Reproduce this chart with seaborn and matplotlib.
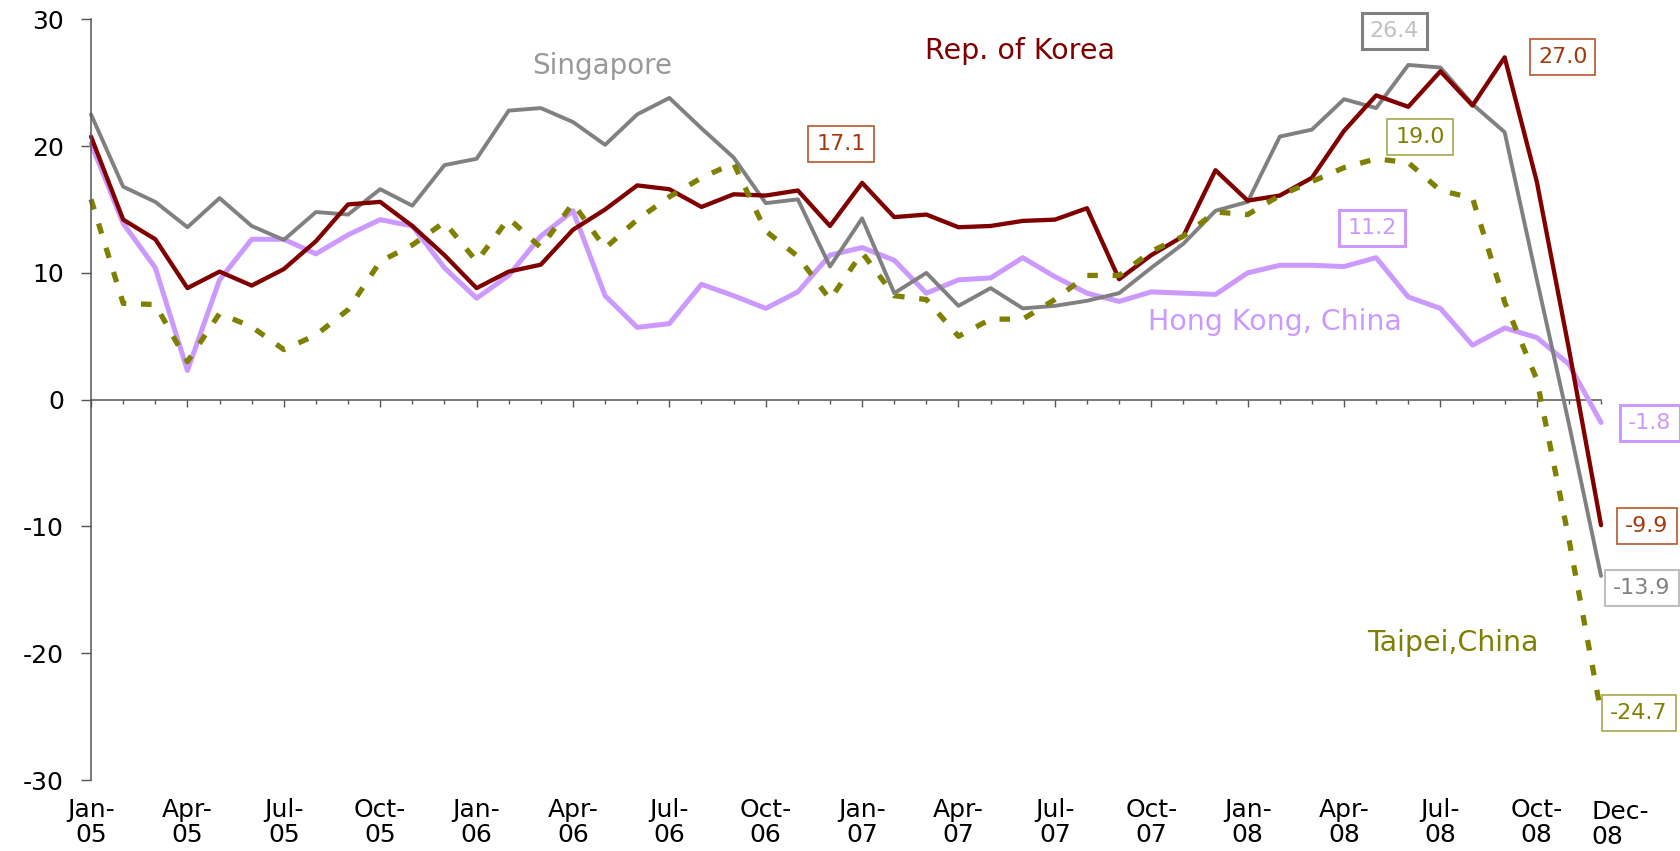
import numpy as np
import pandas as pd
import matplotlib
matplotlib.use("Agg")
import matplotlib.pyplot as plt
import matplotlib.transforms as mtransforms
import seaborn as sns

# monthly growth rates, Jan-05 .. Dec-08
korea = [20.75, 14.2, 12.65, 8.8, 10.1, 9.0, 10.3, 12.5, 15.4, 15.6, 13.7, 11.4,
         8.8, 10.1, 10.65, 13.4, 15.0, 16.9, 16.6, 15.2, 16.2, 16.1, 16.5, 13.7,
         17.1, 14.4, 14.6, 13.6, 13.7, 14.1, 14.2, 15.1, 9.5, 11.4, 12.9, 18.1,
         15.7, 16.1, 17.5, 21.2, 24.0, 23.1, 25.9, 23.2, 27.0, 17.2, 4.0, -9.9]
singapore = [22.5, 16.8, 15.6, 13.6, 15.9, 13.7, 12.6, 14.8, 14.6, 16.6, 15.3, 18.5,
             19.0, 22.8, 23.0, 21.9, 20.1, 22.5, 23.8, 21.4, 19.1, 15.5, 15.8, 10.5,
             14.3, 8.4, 10.0, 7.4, 8.8, 7.2, 7.4, 7.8, 8.4, 10.4, 12.3, 14.9,
             15.6, 20.75, 21.3, 23.7, 23.0, 26.4, 26.2, 23.3, 21.1, 9.5, -1.9, -13.9]
hongkong = [20.2, 13.9, 10.4, 2.3, 9.45, 12.65, 12.65, 11.5, 13.0, 14.2, 13.7, 10.4,
            8.0, 9.8, 12.9, 14.9, 8.2, 5.7, 6.0, 9.1, 8.2, 7.2, 8.5, 11.4,
            12.0, 11.0, 8.4, 9.45, 9.6, 11.2, 9.7, 8.4, 7.75, 8.5, 8.4, 8.3,
            10.0, 10.6, 10.6, 10.5, 11.2, 8.1, 7.2, 4.3, 5.65, 4.9, 2.8, -1.8]
taipei = [15.8, 7.6, 7.5, 3.0, 6.8, 5.75, 3.95, 5.1, 7.1, 10.9, 12.2, 14.0,
          10.9, 14.3, 12.0, 15.5, 11.95, 14.2, 16.0, 17.5, 18.65, 13.3, 11.3, 7.9,
          11.6, 8.2, 7.9, 5.0, 6.35, 6.35, 7.9, 9.8, 9.8, 11.7, 12.9, 14.8,
          14.6, 16.1, 17.2, 18.3, 19.0, 18.7, 16.5, 15.9, 7.7, 1.6, -11.0, -24.7]

tick_labels = ["Jan-\n05", "Apr-\n05", "Jul-\n05", "Oct-\n05",
               "Jan-\n06", "Apr-\n06", "Jul-\n06", "Oct-\n06",
               "Jan-\n07", "Apr-\n07", "Jul-\n07", "Oct-\n07",
               "Jan-\n08", "Apr-\n08", "Jul-\n08", "Oct-\n08", "Dec-\n08"]
y_ticks = [-30, -20, -10, 0, 10, 20, 30]

names = ["Hong Kong, China", "Singapore", "Rep. of Korea", "Taipei,China"]
months = np.arange(len(korea))
df = pd.DataFrame({"month": months, "Hong Kong, China": hongkong,
                   "Singapore": singapore, "Rep. of Korea": korea,
                   "Taipei,China": taipei})
df = df.melt(id_vars="month", var_name="economy", value_name="growth")

styles = {
    "Hong Kong, China": dict(color="#CC99FF", linewidth=3.6, linestyle="-"),
    "Singapore": dict(color="#808080", linewidth=2.8, linestyle="-"),
    "Rep. of Korea": dict(color="#800000", linewidth=3.1, linestyle="-"),
    "Taipei,China": dict(color="#808000", linewidth=3.8, linestyle=(0, (2.0, 2.8))),
}

sns.set_theme(style="white")
plt.rcParams["font.family"] = ["DejaVu Sans", "Liberation Sans"]
plt.rcParams["axes.unicode_minus"] = False

fig = plt.figure(figsize=(16.8, 8.51), dpi=100)
ax = fig.add_axes([0.0542, 0.0834, 0.953 - 0.0542, 0.9773 - 0.0834])

for name in names:
    sub = df[df["economy"] == name]
    sns.lineplot(data=sub, x="month", y="growth", ax=ax, clip_on=False,
                 solid_capstyle="round", solid_joinstyle="round",
                 dash_capstyle="butt", **styles[name])

ax.set_xlim(0, len(korea) - 1)
ax.set_ylim(-30, 30)
ax.set_xlabel("")
ax.set_ylabel("")

# axes: left spine, zero line as category axis, labels at the bottom
for side in ["top", "right", "bottom"]:
    ax.spines[side].set_visible(False)
ax.spines["left"].set_color("#555555")
ax.spines["left"].set_linewidth(1.1)
ax.set_yticks(y_ticks)
ax.tick_params(axis="y", direction="out", length=7.5, width=1.0, color="#555555",
               pad=12, labelsize=18, labelcolor="black", left=True)

tick_pos = list(range(0, len(korea), 3)) + [len(korea) - 1]
ax.set_xticks(tick_pos)
ax.set_xticklabels(tick_labels, linespacing=1.05)
ax.tick_params(axis="x", length=0, pad=13, labelsize=18, labelcolor="black")
last = ax.get_xticklabels()[-1]
last.set_horizontalalignment("left")
last.set_transform(last.get_transform() +
                   mtransforms.ScaledTranslation(-0.10, -0.02, fig.dpi_scale_trans))

zero_axis = ax.secondary_xaxis(0, transform=ax.transData)
zero_axis.spines["bottom"].set_color("#555555")
zero_axis.spines["bottom"].set_linewidth(1.1)
zero_axis.set_xticks(list(range(0, len(korea), 3)))
zero_axis.set_xticks(list(months), minor=True)
zero_axis.tick_params(which="major", direction="out", length=5, width=1.0,
                      color="#555555", labelbottom=False)
zero_axis.tick_params(which="minor", direction="out", length=3, width=1.0,
                      color="#555555", labelbottom=False)

# series names
ax.text(15.9, 26.3, "Singapore", color="#999999", fontsize=20,
        ha="center", va="center")
ax.text(28.9, 27.5, "Rep. of Korea", color="#800000", fontsize=20.5,
        ha="center", va="center")
ax.text(36.85, 6.1, "Hong Kong, China", color="#CC99FF", fontsize=20.5,
        ha="center", va="center")
ax.text(42.4, -19.2, "Taipei,China", color="#808000", fontsize=20.5,
        ha="center", va="center")

# boxed value labels
boxes = [
    (24, korea, (-21, 39), "#A3390C", "#B8562E", 1.2),
    (44, korea, (58, 0), "#A3390C", "#B8562E", 1.2),
    (47, korea, (46, -1), "#A3390C", "#B8562E", 1.2),
    (41, singapore, (-14, 34), "#C0C0C0", "#808080", 2.2),
    (47, singapore, (41, -12), "#808080", "#BFBFBF", 1.5),
    (40, taipei, (44, 22), "#808000", "#A8A84E", 1.2),
    (47, taipei, (38, 0), "#808000", "#A8A84E", 1.2),
    (40, hongkong, (-4, 30), "#CC99FF", "#CC99FF", 2.2),
    (47, hongkong, (49, -1), "#CC99FF", "#CC99FF", 2.2),
]
for i, series, offset, tcolor, ecolor, elw in boxes:
    ax.annotate(f"{series[i]:.1f}", xy=(i, series[i]), xytext=offset,
                textcoords="offset pixels", ha="center", va="center",
                fontsize=16, color=tcolor, zorder=10, annotation_clip=False,
                bbox=dict(boxstyle="square,pad=0.36", facecolor="white",
                          edgecolor=ecolor, linewidth=elw))

fig.savefig("out.png", dpi=100, facecolor="white")
